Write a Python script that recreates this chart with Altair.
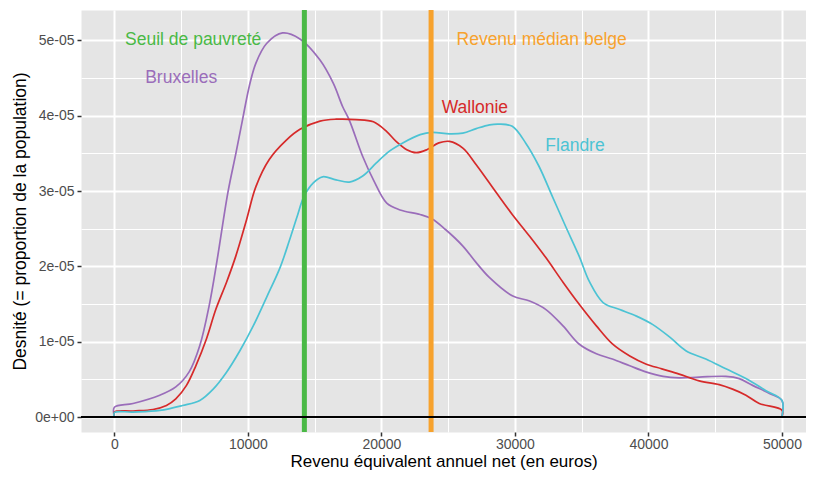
import altair as alt
import pandas as pd

# ---- data (density in units of 1e-05) ----
regions = ["Bruxelles", "Wallonie", "Flandre"]
region_colors = ["#9A6DBA", "#D62A2A", "#4CC3D4"]

bxl_x = [0, 0, 1400, 3400, 4600, 5600, 6400, 7100, 7700, 8500, 9100, 9600, 10100, 10600,
         11400, 12600, 13900, 15400, 16400, 17100, 17600, 18600, 19400, 20400, 21400, 22900,
         23800, 24800, 26100, 27100, 28100, 29800, 31100, 32300, 33600, 34800, 36100, 37300,
         38600, 39800, 41100, 42300, 43800, 45800, 46800, 47800, 49100, 50000, 50000]
bxl_d = [0, 0.13, 0.18, 0.29, 0.40, 0.60, 0.95, 1.48, 2.09, 2.98, 3.50, 3.95, 4.39, 4.70,
         4.96, 5.10, 5.02, 4.74, 4.43, 4.12, 3.94, 3.46, 3.15, 2.84, 2.75, 2.69,
         2.63, 2.49, 2.27, 2.05, 1.85, 1.61, 1.54, 1.43, 1.21, 0.97, 0.84, 0.77,
         0.68, 0.60, 0.54, 0.52, 0.53, 0.54, 0.51, 0.42, 0.31, 0.22, 0]

wal_x = [0, 0, 1400, 2900, 3900, 4600, 5400, 6100, 6900, 7600, 8400, 9100, 9900, 10600,
         11600, 12900, 13900, 15400, 16600, 18100, 19400, 20400, 21100, 21900, 22600, 23400,
         24300, 25100, 26100, 27100, 28600, 29800, 31100, 32300, 33600, 34800, 36100, 37300,
         38600, 39800, 41000, 42300, 43800, 45300, 46300, 47300, 48300, 50000, 50000]
wal_d = [0, 0.066, 0.08, 0.10, 0.153, 0.24, 0.42, 0.68, 1.04, 1.43, 1.79, 2.14, 2.62, 3.06,
         3.42, 3.68, 3.82, 3.93, 3.955, 3.95, 3.92, 3.79, 3.66, 3.55, 3.51, 3.55,
         3.64, 3.66, 3.57, 3.35, 2.98, 2.69, 2.40, 2.12, 1.79, 1.50, 1.21, 0.97,
         0.81, 0.705, 0.64, 0.57, 0.48, 0.43, 0.37, 0.29, 0.18, 0.09, 0]

fla_x = [0, 0, 1400, 3400, 5100, 6400, 7400, 8400, 9400, 10400, 11400, 12400, 13100, 13700,
         14200, 14900, 15600, 16600, 17600, 18600, 19600, 20600, 21600, 22900, 23800, 25100,
         26100, 27100, 28100, 28800, 29800, 30800, 31800, 32800, 33800, 34800, 35600, 36600,
         37800, 39100, 40300, 41600, 42800, 44300, 45800, 47300, 48800, 50000, 50000]
fla_d = [0, 0.06, 0.066, 0.088, 0.153, 0.22, 0.37, 0.595, 0.88, 1.21, 1.59, 1.98, 2.34, 2.67,
         2.93, 3.11, 3.19, 3.15, 3.12, 3.20, 3.37, 3.53, 3.64, 3.75, 3.78, 3.76,
         3.77, 3.83, 3.88, 3.89, 3.86, 3.64, 3.33, 2.93, 2.53, 2.14, 1.79, 1.52,
         1.43, 1.34, 1.23, 1.06, 0.88, 0.77, 0.64, 0.51, 0.35, 0.22, 0]

ref_labels = ["Seuil de pauvreté", "Revenu médian belge"]
ref_values = [14230, 23720]
ref_colors = ["#4AB946", "#F7A22D"]

annot_labels = ["Seuil de pauvreté", "Bruxelles", "Revenu médian belge", "Wallonie", "Flandre"]
annot_x = [5900, 5000, 32000, 27000, 34500]
annot_y = [5.0, 4.5, 5.0, 4.1, 3.6]
annot_colors = ["#4AB946", "#9A6DBA", "#F7A22D", "#D62A2A", "#4CC3D4"]

x_ticks = list(range(0, 50001, 5000))
y_ticks = [i * 0.5 for i in range(0, 11)]

# ---- tables ----
rows = []
for reg, xs, ds in zip(regions, [bxl_x, wal_x, fla_x], [bxl_d, wal_d, fla_d]):
    for i, (xv, dv) in enumerate(zip(xs, ds)):
        rows.append({"region": reg, "revenu": xv, "densite": dv, "ordre": i})
curves = pd.DataFrame(rows)

refs = pd.DataFrame({"label": ref_labels, "revenu": ref_values, "couleur": ref_colors})
annots = pd.DataFrame({"label": annot_labels, "revenu": annot_x, "densite": annot_y,
                       "couleur": annot_colors})
zero = pd.DataFrame({"densite": [0]})

x_scale = alt.Scale(domain=[-2500, 51800], nice=False, zero=False)
y_scale = alt.Scale(domain=[-0.199, 5.405], nice=False, zero=False)

major_x = "datum.value % 10000 === 0"
major_y = "datum.value % 1 === 0"

x_axis = alt.Axis(
    values=x_ticks, format="d",
    labelExpr=f"{major_x} ? datum.label : ''",
    gridWidth={"condition": {"test": major_x, "value": 2}, "value": 1},
    tickOpacity={"condition": {"test": major_x, "value": 1}, "value": 0},
    title="Revenu équivalent annuel net (en euros)",
    labelPadding=1,
    titlePadding=2,
    titleFontSize=17,
)
y_axis = alt.Axis(
    values=y_ticks,
    labelExpr=f"{major_y} ? (datum.value === 0 ? '0e+00' : datum.value + 'e-05') : ''",
    gridWidth={"condition": {"test": major_y, "value": 2}, "value": 1},
    tickOpacity={"condition": {"test": major_y, "value": 1}, "value": 0},
    title="Desnité (= proportion de la population)",
    labelPadding=3,
    titlePadding=5,
)

lines = alt.Chart(curves).mark_line(strokeWidth=1.7, interpolate="catmull-rom", clip=True).encode(
    x=alt.X("revenu:Q", scale=x_scale, axis=x_axis),
    y=alt.Y("densite:Q", scale=y_scale, axis=y_axis),
    color=alt.Color("region:N", scale=alt.Scale(domain=regions, range=region_colors), legend=None),
    order=alt.Order("ordre:Q"),
)

hline = alt.Chart(zero).mark_rule(color="black", strokeWidth=1.8).encode(
    y=alt.Y("densite:Q", scale=y_scale)
)

vlines = alt.Chart(refs).mark_rule(strokeWidth=5).encode(
    x=alt.X("revenu:Q", scale=x_scale),
    color=alt.Color("couleur:N", scale=None),
)

texts = alt.Chart(annots).mark_text(
    fontSize=17.5, font="Liberation Sans", align="center", baseline="middle"
).encode(
    x=alt.X("revenu:Q", scale=x_scale),
    y=alt.Y("densite:Q", scale=y_scale),
    text="label:N",
    color=alt.Color("couleur:N", scale=None),
)

chart = alt.layer(lines, vlines, hline, texts).properties(
    width=725, height=422,
    autosize=alt.AutoSizeParams(type="none"),
    padding={"left": 73, "top": 2, "right": 0, "bottom": 39},
).configure_view(
    fill="#E5E5E5", stroke="transparent"
).configure_axis(
    domain=False, gridColor="white", tickColor="#333333", tickSize=4, tickWidth=1.5,
    labelColor="#4D4D4D", labelFontSize=14, labelFont="Liberation Sans",
    titleFont="Liberation Sans", titleFontSize=17.5, titleColor="black", titleFontWeight="normal",
)

chart.save("out.html", embed_options={"renderer": "svg", "actions": False})
